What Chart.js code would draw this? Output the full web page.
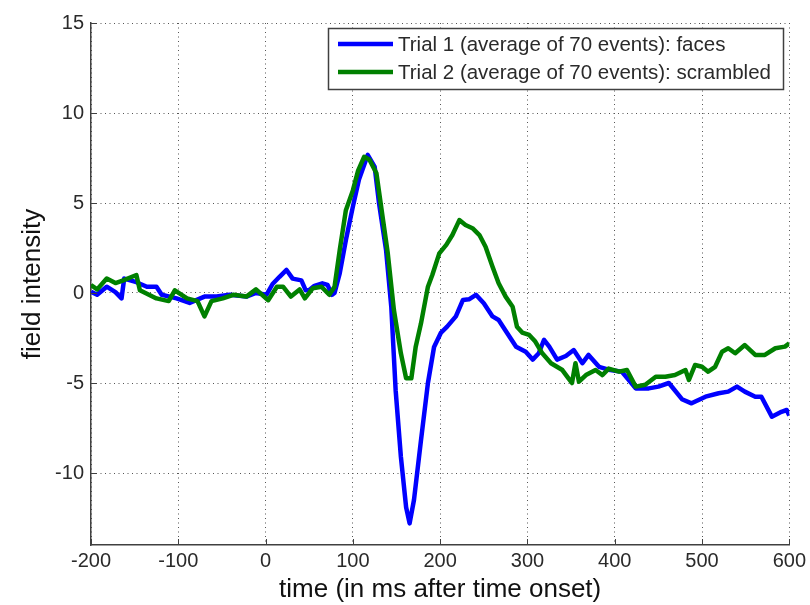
<!DOCTYPE html>
<html>
<head>
<meta charset="utf-8">
<script src="https://cdn.jsdelivr.net/npm/chart.js@4/dist/chart.umd.min.js"></script>
<style>
  html, body { margin: 0; padding: 0; background: #fff; }
  #wrap { width: 810px; height: 605px; }
</style>
</head>
<body>
<div id="wrap"><canvas id="erpChart" width="810" height="605"></canvas></div>
<script>
// Données (temps en ms, intensité du champ)
const facesTimes = [-200, -193, -182, -172, -165, -162, -148, -136, -125, -119, -110, -102, -87, -70, -56, -41, -22, -11, 1, 8, 16, 24, 31, 41, 46, 50, 56, 65, 71, 76, 79, 85, 92, 100, 107, 117, 125, 130, 138, 144, 149, 155, 161, 165, 170, 178, 186, 193, 201, 208, 218, 226, 233, 241, 250, 260, 267, 275, 287, 298, 306, 313, 319, 325, 334, 344, 353, 363, 370, 382, 395, 408, 424, 439, 450, 462, 477, 488, 504, 519, 530, 540, 549, 561, 568, 580, 591, 597, 600];
const facesValues = [0.07, -0.1, 0.35, 0.05, -0.3, 0.8, 0.6, 0.35, 0.35, -0.1, -0.2, -0.3, -0.55, -0.2, -0.2, -0.1, -0.2, 0, -0.1, 0.5, 0.9, 1.28, 0.8, 0.7, 0.15, 0.17, 0.4, 0.54, 0.45, -0.1, 0, 1.1, 2.94, 4.8, 6.3, 7.67, 7.0, 4.98, 2.4, -0.76, -5.4, -9.1, -11.9, -12.8, -11.5, -8.2, -5.0, -3.0, -2.2, -1.87, -1.3, -0.39, -0.35, -0.1, -0.57, -1.3, -1.5, -2.1, -2.98, -3.26, -3.7, -3.35, -2.6, -2.98, -3.7, -3.5, -3.17, -3.9, -3.44, -4.1, -4.28, -4.37, -5.3, -5.3, -5.2, -5.0, -5.9, -6.13, -5.76, -5.57, -5.48, -5.2, -5.48, -5.76, -5.76, -6.87, -6.6, -6.5, -6.8];

const scrambledTimes = [-200, -193, -182, -172, -163, -148, -144, -125, -111, -104, -90, -78, -70, -62, -49, -37, -22, -11, 3, 13, 20, 29, 39, 45, 54, 64, 73, 79, 85, 92, 100, 106, 113, 119, 127, 134, 140, 147, 155, 161, 167, 172, 178, 186, 191, 199, 207, 214, 222, 229, 237, 245, 252, 260, 267, 275, 283, 288, 294, 302, 309, 317, 327, 340, 347, 351, 355, 359, 367, 378, 386, 393, 405, 414, 424, 435, 447, 458, 469, 481, 485, 492, 500, 507, 515, 523, 530, 538, 549, 561, 572, 584, 595, 600];
const scrambledValues = [0.44, 0.2, 0.8, 0.55, 0.7, 1.0, 0.15, -0.3, -0.45, 0.15, -0.3, -0.45, -1.3, -0.45, -0.3, -0.1, -0.2, 0.2, -0.4, 0.35, 0.35, -0.2, 0.2, -0.3, 0.26, 0.35, -0.1, 0.35, 2.4, 4.6, 5.7, 6.8, 7.57, 7.4, 6.65, 4.24, 2.2, -0.94, -3.35, -4.74, -4.74, -2.98, -1.7, 0.35, 1.0, 2.2, 2.67, 3.22, 4.05, 3.78, 3.6, 3.22, 2.57, 1.46, 0.54, -0.2, -0.76, -1.87, -2.2, -2.33, -2.7, -3.35, -3.9, -4.28, -4.74, -5.0, -3.9, -4.93, -4.56, -4.28, -4.56, -4.2, -4.37, -4.28, -5.2, -5.1, -4.65, -4.65, -4.56, -4.28, -4.83, -4.0, -4.1, -4.37, -4.1, -3.26, -3.07, -3.35, -2.89, -3.44, -3.44, -3.07, -2.98, -2.8];

const seriesLabels = ['Trial 1 (average of 70 events): faces', 'Trial 2 (average of 70 events): scrambled'];
const seriesColors = ['#0000ff', '#008000'];

const xMin = -200, xMax = 600, xStep = 100;
const yMin = -14, yMax = 15, yStep = 5;

const FONT = '"Liberation Sans", Arial, Helvetica, sans-serif';

function toPoints(times, values) {
    return times.map((t, i) => ({ x: t, y: values[i] }));
}

// Petits traits de graduation vers l'intérieur + légende encadrée
const matlabDecor = {
    id: 'matlabDecor',
    afterDraw(chart) {
        const ctx = chart.ctx;
        const area = chart.chartArea;
        const xs = chart.scales.x;
        const ys = chart.scales.y;

        ctx.save();
        ctx.strokeStyle = '#404040';
        ctx.lineWidth = 1;
        xs.ticks.forEach(t => {
            const px = Math.round(xs.getPixelForValue(t.value)) + 0.5;
            ctx.beginPath();
            ctx.moveTo(px, area.bottom);
            ctx.lineTo(px, area.bottom - 6);
            ctx.stroke();
        });
        ys.ticks.forEach(t => {
            const py = Math.round(ys.getPixelForValue(t.value)) + 0.5;
            ctx.beginPath();
            ctx.moveTo(area.left, py);
            ctx.lineTo(area.left + 6, py);
            ctx.stroke();
        });

        // légende
        const box = { x: 328, y: 28, w: 455, h: 61 };
        ctx.fillStyle = '#ffffff';
        ctx.fillRect(box.x, box.y, box.w, box.h);
        ctx.strokeStyle = '#404040';
        ctx.lineWidth = 1.5;
        ctx.strokeRect(box.x + 0.5, box.y + 0.5, box.w, box.h);

        ctx.font = '20.5px ' + FONT;
        ctx.textBaseline = 'middle';
        ctx.textAlign = 'left';
        seriesLabels.forEach((label, i) => {
            const cy = box.y + 16 + i * 28;
            ctx.strokeStyle = seriesColors[i];
            ctx.lineWidth = 4.5;
            ctx.beginPath();
            ctx.moveTo(338, cy);
            ctx.lineTo(393, cy);
            ctx.stroke();
            ctx.fillStyle = '#2a2a2a';
            ctx.fillText(label, 398, cy + 1);
        });
        ctx.restore();
    }
};

document.addEventListener('DOMContentLoaded', function () {
    const ctx = document.getElementById('erpChart').getContext('2d');

    new Chart(ctx, {
        type: 'line',
        data: {
            datasets: [
                {
                    label: seriesLabels[0],
                    data: toPoints(facesTimes, facesValues),
                    borderColor: seriesColors[0],
                    borderWidth: 4.5,
                    borderJoinStyle: 'round',
                    pointRadius: 0,
                    tension: 0,
                    order: 1
                },
                {
                    label: seriesLabels[1],
                    data: toPoints(scrambledTimes, scrambledValues),
                    borderColor: seriesColors[1],
                    borderWidth: 4.5,
                    borderJoinStyle: 'round',
                    pointRadius: 0,
                    tension: 0,
                    order: 0
                }
            ]
        },
        options: {
            responsive: false,
            animation: false,
            layout: { padding: { top: 23, right: 19, left: 0, bottom: 0 } },
            plugins: {
                legend: { display: false },
                tooltip: { enabled: false }
            },
            scales: {
                x: {
                    type: 'linear',
                    min: xMin,
                    max: xMax,
                    afterFit: s => { s.height = 60; },
                    ticks: {
                        stepSize: xStep,
                        includeBounds: false,
                        padding: 4,
                        color: '#2a2a2a',
                        font: { family: FONT, size: 20 },
                        maxRotation: 0
                    },
                    grid: { color: '#555', lineWidth: 1, drawTicks: false },
                    border: { display: true, color: '#404040', width: 1.5, dash: [1, 3.5] },
                    title: {
                        display: true,
                        text: 'time (in ms after time onset)',
                        color: '#111',
                        font: { family: FONT, size: 26 },
                        padding: { top: 0, bottom: 0 }
                    }
                },
                y: {
                    min: yMin,
                    max: yMax,
                    afterFit: s => { s.width = 91; },
                    ticks: {
                        stepSize: yStep,
                        includeBounds: false,
                        padding: 7,
                        color: '#2a2a2a',
                        font: { family: FONT, size: 20 }
                    },
                    grid: { color: '#555', lineWidth: 1, drawTicks: false },
                    border: { display: true, color: '#404040', width: 1.5, dash: [1, 3.5] },
                    title: {
                        display: true,
                        text: 'field intensity',
                        color: '#111',
                        font: { family: FONT, size: 26 },
                        padding: { top: 17, bottom: 0 }
                    }
                }
            }
        },
        plugins: [matlabDecor]
    });
});
</script>
</body>
</html>
